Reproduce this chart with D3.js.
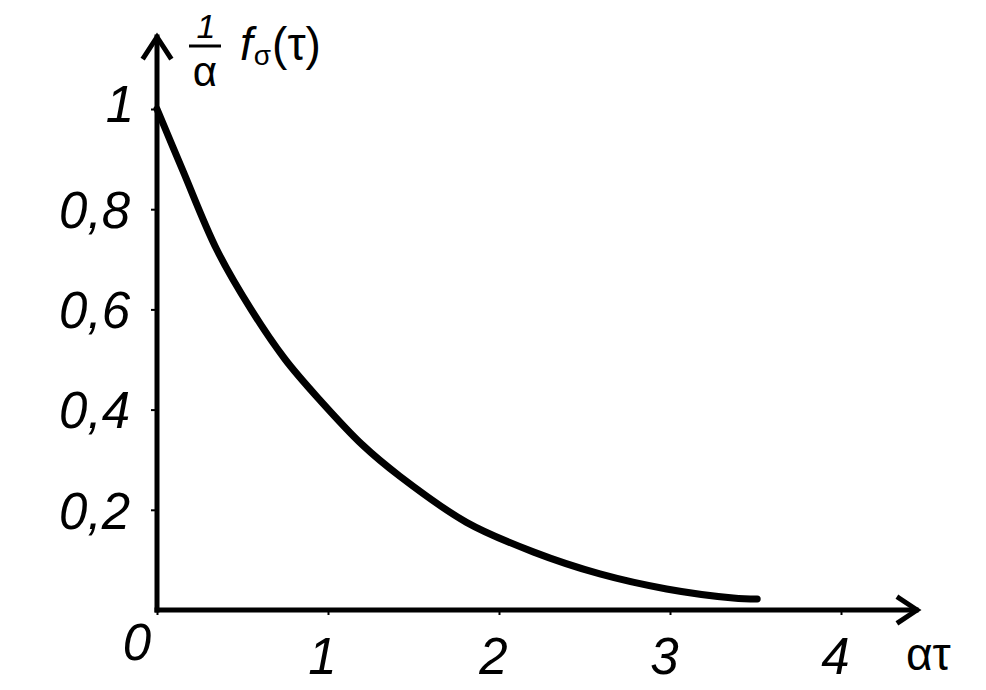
<!DOCTYPE html>
<html><head><meta charset="utf-8">
<script src="https://cdn.jsdelivr.net/npm/d3@7"></script>
<style>html,body{margin:0;padding:0;background:#fff;}svg{display:block;}</style>
</head><body>
<svg id="c" width="986" height="690"></svg>
<script>
// Data
const xValues = [0, 0.15, 0.35, 0.55, 0.75, 0.95, 1.2, 1.42, 1.81, 2.2, 2.59, 2.98, 3.37, 3.51];
const yValues = [1.0, 0.878, 0.719, 0.60, 0.50, 0.42, 0.33, 0.267, 0.175, 0.116, 0.072, 0.042, 0.024, 0.022];
const xTicks = [0, 1, 2, 3, 4];
const xTickLabels = ["", "1", "2", "3", "4"];
const yTicks = [0.2, 0.4, 0.6, 0.8, 1];
const yTickLabels = ["0,2", "0,4", "0,6", "0,8", "1"];

const svg = d3.select("#c");
const x = d3.scaleLinear().domain([0, 4]).range([157, 841]);
const y = d3.scaleLinear().domain([0, 1]).range([610, 109]);
const font = "'Liberation Sans', Arial, sans-serif";

// Y axis ticks + labels
const yAxis = d3.axisLeft(y).tickValues(yTicks)
  .tickFormat((d, i) => yTickLabels[i]).tickSize(6).tickPadding(21);
const gy = svg.append("g").attr("transform", `translate(${x(0)},0)`).call(yAxis);
gy.select(".domain").remove();
gy.selectAll(".tick line").attr("stroke", "#000").attr("stroke-width", 2);
gy.selectAll(".tick text").attr("font-family", font).attr("font-style", "italic")
  .attr("font-size", 51).attr("fill", "#000").attr("dy", "0.36em")
  .attr("dx", (d) => d === 1 ? 4 : 0)
  .attr("transform", d => d === 1 ? "translate(0,-6)" : null);

// X axis ticks + labels
const xAxis = d3.axisBottom(x).tickValues(xTicks)
  .tickFormat((d, i) => xTickLabels[i]).tickSize(5).tickPadding(23);
const gx = svg.append("g").attr("transform", `translate(0,${y(0)})`).call(xAxis);
gx.select(".domain").remove();
gx.selectAll(".tick line").attr("stroke", "#000").attr("stroke-width", 2);
gx.selectAll(".tick text").attr("font-family", font).attr("font-style", "italic")
  .attr("font-size", 51).attr("fill", "#000").attr("dx", -6);

// "0" origin label
svg.append("text").attr("x", x(0) - 20).attr("y", y(0) + 50)
  .attr("text-anchor", "middle").attr("font-family", font).attr("font-style", "italic")
  .attr("font-size", 51).text("0");

// Axis lines with arrows
const ax = svg.append("g").attr("stroke", "#000").attr("stroke-width", 5)
  .attr("fill", "none").attr("stroke-linecap", "square").attr("stroke-linejoin", "miter");
ax.append("line").attr("x1", x(0)).attr("y1", y(0)).attr("x2", 916).attr("y2", y(0));
ax.append("line").attr("x1", x(0)).attr("y1", y(0)).attr("x2", x(0)).attr("y2", 37);
ax.append("path").attr("d", `M${x(0)-13},57 L${x(0)},37 L${x(0)+13},57`);
ax.append("path").attr("d", `M899,${y(0)-12} L917,${y(0)} L899,${y(0)+12}`);

// Curve
const line = d3.line().x((d, i) => x(xValues[i])).y(d => y(d)).curve(d3.curveCatmullRom.alpha(0.5));
svg.append("path").datum(yValues).attr("d", line)
  .attr("fill", "none").attr("stroke", "#000").attr("stroke-width", 7)
  .attr("stroke-linecap", "round");

// Axis titles
svg.append("text").attr("x", 906).attr("y", 670).attr("font-family", font)
  .attr("font-size", 46).text("ατ");

const yl = svg.append("g").attr("font-family", font).attr("fill", "#000");
yl.append("text").attr("x", 206).attr("y", 38).attr("text-anchor", "middle")
  .attr("font-style", "italic").attr("font-size", 34).text("1");
yl.append("line").attr("x1", 189).attr("x2", 221).attr("y1", 46).attr("y2", 46)
  .attr("stroke", "#000").attr("stroke-width", 3);
yl.append("text").attr("x", 205).attr("y", 86).attr("text-anchor", "middle")
  .attr("font-size", 42).text("α");
const t = yl.append("text").attr("x", 240).attr("y", 60).attr("font-size", 46);
t.append("tspan").attr("font-style", "italic").text("f");
t.append("tspan").attr("font-size", 28).attr("dy", 5).attr("dx", 1).text("σ");
t.append("tspan").attr("dy", -5).attr("dx", 1).text("(τ)");
</script>
</body></html>
